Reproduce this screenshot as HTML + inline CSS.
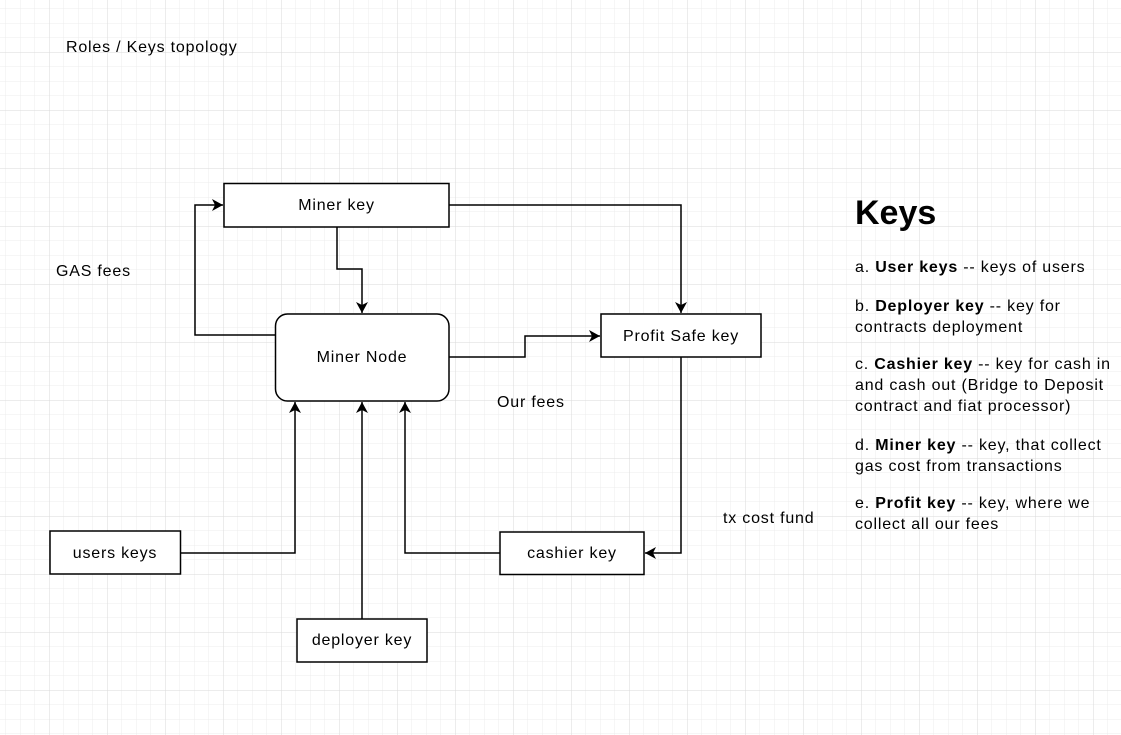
<!DOCTYPE html>
<html><head><meta charset="utf-8"><style>
body{margin:0;width:1121px;height:735px;overflow:hidden;background:#fff;font-family:"Liberation Sans",sans-serif;}
svg{position:absolute;left:0;top:0}
.t{position:absolute;font-size:16px;letter-spacing:0.8px;color:#000;white-space:nowrap;line-height:21px}
</style></head><body>
<svg width="1121" height="735" xmlns="http://www.w3.org/2000/svg">
<defs>
<pattern id="mi" x="49" y="52" width="14.5" height="14.5" patternUnits="userSpaceOnUse"><path d="M0 0H14.5M0 0V14.5" stroke="#ececec" stroke-width="1" fill="none"/></pattern>
<pattern id="ma" x="49" y="52" width="58" height="58" patternUnits="userSpaceOnUse"><path d="M0 0H58M0 0V58" stroke="#dadada" stroke-width="1" fill="none"/></pattern>
<marker id="ar" markerWidth="12" markerHeight="12" refX="11" refY="6" orient="auto" markerUnits="userSpaceOnUse"><path d="M0 0L11 6L0 12L3 6Z" fill="#000"/></marker>
</defs>
<rect width="1121" height="735" fill="url(#mi)"/>
<rect width="1121" height="735" fill="url(#ma)"/>
<g fill="#fff" stroke="#000" stroke-width="1.5">
<rect x="224" y="183.5" width="225" height="43.5"/>
<rect x="275.5" y="314" width="173.5" height="87" rx="12"/>
<rect x="601" y="314" width="160" height="43"/>
<rect x="50" y="531" width="130.5" height="43"/>
<rect x="500" y="532" width="144" height="42.5"/>
<rect x="297" y="619" width="130" height="43"/>
</g>
<g fill="none" stroke="#000" stroke-width="1.5" marker-end="url(#ar)">
<path d="M337 227V269H362V313"/>
<path d="M275 335H195V205H223"/>
<path d="M449 205H681V313"/>
<path d="M449 357H525V336H600"/>
<path d="M681 357V553H645"/>
<path d="M180 553H295V402"/>
<path d="M362 619V402"/>
<path d="M500 553H405V402"/>
</g>
</svg>
<div class="t" style="left:66px;top:37px">Roles / Keys topology</div>
<div class="t" style="left:56px;top:261px">GAS fees</div>
<div class="t" style="left:497px;top:392px">Our fees</div>
<div class="t" style="left:723px;top:508px">tx cost fund</div>
<div class="t" style="left:224px;width:225px;text-align:center;top:195px">Miner key</div>
<div class="t" style="left:275px;width:174px;text-align:center;top:347px">Miner Node</div>
<div class="t" style="left:601px;width:160px;text-align:center;top:326px">Profit Safe key</div>
<div class="t" style="left:50px;width:130px;text-align:center;top:543px">users keys</div>
<div class="t" style="left:500px;width:144px;text-align:center;top:543px">cashier key</div>
<div class="t" style="left:297px;width:130px;text-align:center;top:630px">deployer key</div>
<div class="t" style="left:855px;top:194px;font-size:34px;letter-spacing:0;font-weight:bold;line-height:38px">Keys</div>
<div class="t" style="left:855px;top:257px">a. <b>User keys</b>  -- keys of users</div>
<div class="t" style="left:855px;top:296px">b. <b>Deployer key</b> -- key for<br>contracts deployment</div>
<div class="t" style="left:855px;top:354px">c. <b>Cashier key</b>  -- key for cash in<br>and cash out (Bridge to Deposit<br>contract and fiat processor)</div>
<div class="t" style="left:855px;top:435px">d. <b>Miner key</b> -- key, that collect<br>gas cost from transactions</div>
<div class="t" style="left:855px;top:493px">e. <b>Profit key</b> -- key, where we<br>collect all our fees</div>
</body></html>
